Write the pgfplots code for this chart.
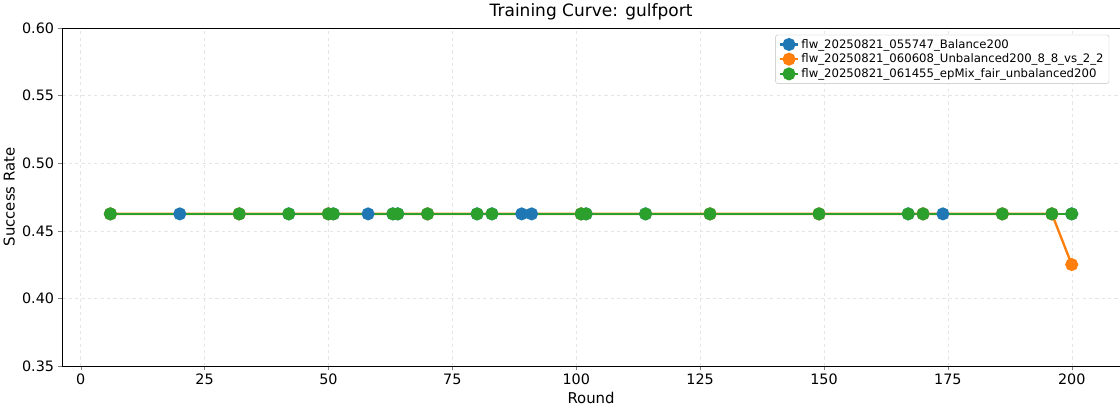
\documentclass[border=0pt]{standalone}
\usepackage{pgfplots}
\pgfplotsset{compat=1.18}
\usepackage{fontspec}
\setmainfont{DejaVu Sans}
\definecolor{c1}{HTML}{1F77B4}
\definecolor{c2}{HTML}{FF7F0E}
\definecolor{c3}{HTML}{2CA02C}
\begin{document}
\begin{tikzpicture}
\begin{axis}[
 width=995pt, height=318pt, scale only axis,
 xmin=-3.7, xmax=209.7, ymin=0.35, ymax=0.60,
 xtick={0,25,...,200}, ytick={0.35,0.40,...,0.60},
 yticklabel style={/pgf/number format/fixed,/pgf/number format/fixed zerofill,/pgf/number format/precision=2},
 /pgf/number format/assume math mode=true,
 tick label style={font=\fontsize{13.5}{16}\selectfont},
 label style={font=\fontsize{14}{17}\selectfont},
 title style={font=\fontsize{16}{19}\selectfont, yshift=-2pt},
 title={Training Curve: gulfport},
 xlabel={Round}, ylabel={Success Rate},
 grid=major, major grid style={dashed, gray!20},
 tick align=outside, tick pos=left,
 legend style={at={(0.99,0.98)}, anchor=north east, font=\fontsize{11}{13}\selectfont, draw=gray!50, rounded corners=2pt, cells={anchor=west}},
 every axis plot/.append style={line width=2.2pt, mark=*, mark size=5pt},
]
\addplot[c1, mark options={fill=c1}] coordinates {(6,0.4625)(20,0.4625)(32,0.4625)(42,0.4625)(50,0.4625)(51,0.4625)(58,0.4625)(63,0.4625)(64,0.4625)(70,0.4625)(80,0.4625)(83,0.4625)(89,0.4625)(91,0.4625)(101,0.4625)(102,0.4625)(114,0.4625)(127,0.4625)(149,0.4625)(167,0.4625)(170,0.4625)(174,0.4625)(186,0.4625)(196,0.4625)(200,0.4625)};
\addlegendentry{flw\_20250821\_055747\_Balance200}
\addplot[c2, mark options={fill=c2}] coordinates {(6,0.4625)(32,0.4625)(50,0.4625)(70,0.4625)(101,0.4625)(127,0.4625)(149,0.4625)(170,0.4625)(186,0.4625)(196,0.4625)(200,0.425)};
\addlegendentry{flw\_20250821\_060608\_Unbalanced200\_8\_8\_vs\_2\_2}
\addplot[c3, mark options={fill=c3}] coordinates {(6,0.4625)(32,0.4625)(42,0.4625)(50,0.4625)(51,0.4625)(63,0.4625)(64,0.4625)(70,0.4625)(80,0.4625)(83,0.4625)(101,0.4625)(102,0.4625)(114,0.4625)(127,0.4625)(149,0.4625)(167,0.4625)(170,0.4625)(186,0.4625)(196,0.4625)(200,0.4625)};
\addlegendentry{flw\_20250821\_061455\_epMix\_fair\_unbalanced200}
\end{axis}
\end{tikzpicture}
\end{document}
